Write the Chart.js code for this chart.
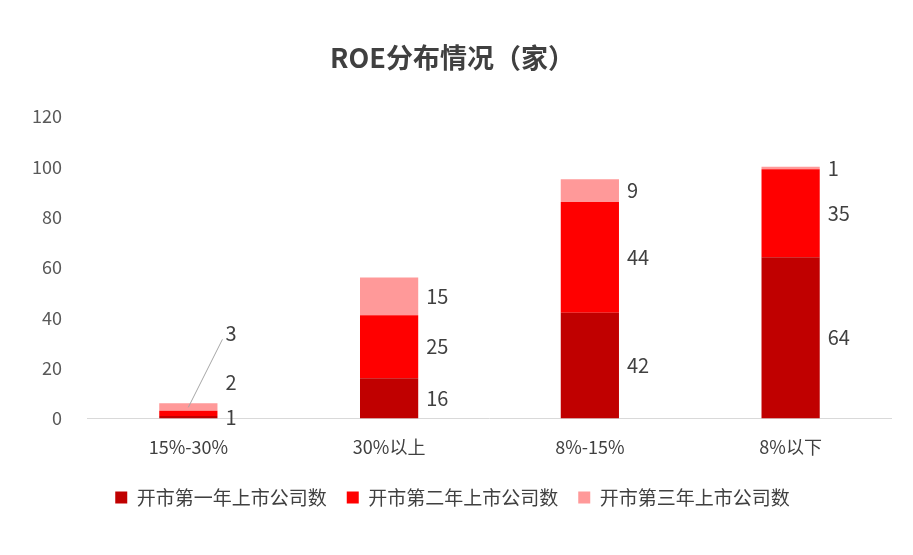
<!DOCTYPE html>
<html><head><meta charset="utf-8">
<script src="https://cdn.jsdelivr.net/npm/chart.js@4"></script>
<style>body{margin:0;background:#fff}#w{width:913px;height:555px}</style>
</head><body><div id="w"><canvas id="c"></canvas></div>
<script>
const categories=["15%-30%","30%以上","8%-15%","8%以下"];
const year1=[1,16,42,64];
const year2=[2,25,44,35];
const year3=[3,15,9,1];
const seriesNames=["开市第一年上市公司数","开市第二年上市公司数","开市第三年上市公司数"];
const yTicks=[0,20,40,60,80,100,120];
const F='"Microsoft YaHei","Noto Sans CJK SC",sans-serif';
const labelPlugin={id:'lbl',afterDatasetsDraw(ch){
 const ctx=ch.ctx;ctx.save();ctx.fillStyle='#404040';ctx.font='20px '+F;ctx.textBaseline='middle';
 ch.data.datasets.forEach((ds,di)=>{
  const meta=ch.getDatasetMeta(di);
  meta.data.forEach((b,i)=>{
   let x=b.x+b.width/2+8,y=(b.y+b.base)/2;
   if(i===0){
     if(di===1){y=b.y-28;}
     if(di===2){const ty=b.y-70;ctx.strokeStyle='#a6a6a6';ctx.lineWidth=1;ctx.beginPath();ctx.moveTo(b.x,b.y+4);ctx.lineTo(x-3,ty+6);ctx.stroke();y=ty;}
   }
   ctx.fillText(String(ds.data[i]),x,y);
  });
 });ctx.restore();}};
new Chart(document.getElementById('c'),{type:'bar',
 data:{labels:categories,datasets:[
  {label:seriesNames[0],data:year1,backgroundColor:'#C00000'},
  {label:seriesNames[1],data:year2,backgroundColor:'#FF0000'},
  {label:seriesNames[2],data:year3,backgroundColor:'#FF9999'}]},
 options:{responsive:true,maintainAspectRatio:false,animation:false,
  layout:{padding:{left:14,right:22,top:10,bottom:38}},
  datasets:{bar:{categoryPercentage:1,barPercentage:0.29}},
  plugins:{title:{display:true,text:'ROE分布情况（家）',color:'#404040',font:{family:F,size:27,weight:'bold'},padding:{top:32,bottom:42}},
   legend:{position:'bottom',labels:{color:'#404040',font:{family:F,size:19},boxWidth:12,boxHeight:12,padding:20}},
   tooltip:{enabled:false}},
  scales:{x:{stacked:true,grid:{display:false},border:{color:'#d9d9d9'},ticks:{color:'#404040',font:{family:F,size:18},padding:10}},
   y:{stacked:true,min:0,max:120,afterBuildTicks:a=>{a.ticks=yTicks.map(v=>({value:v}));},grid:{display:false},border:{display:false},ticks:{color:'#595959',font:{family:F,size:18},padding:18}}}},
 plugins:[labelPlugin]});
</script></body></html>
